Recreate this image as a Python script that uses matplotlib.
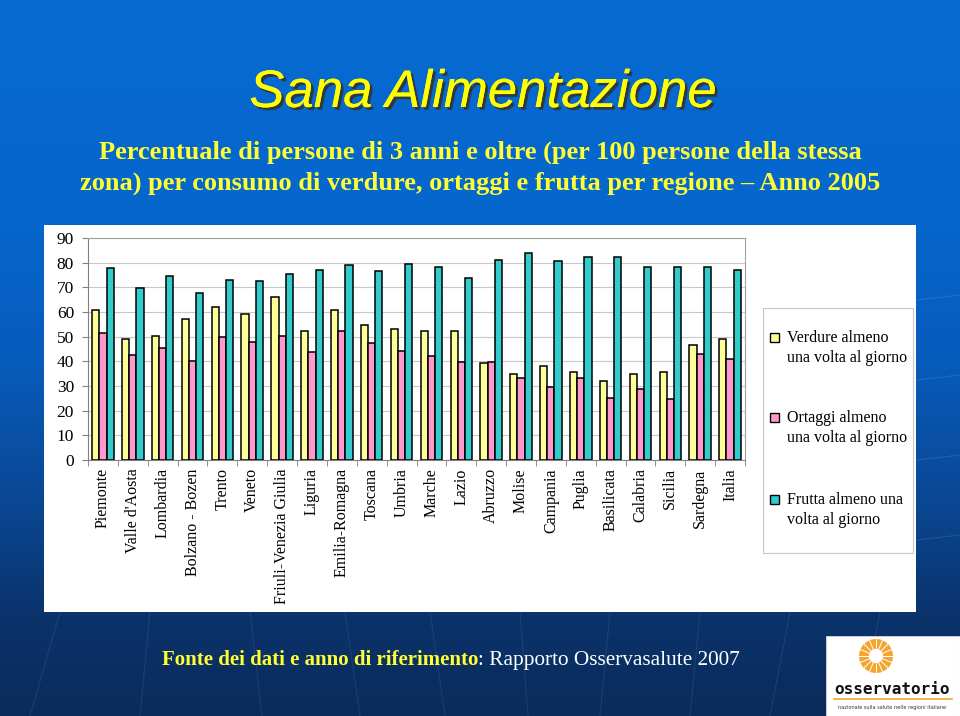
import numpy as np
import matplotlib
matplotlib.use("Agg")
from matplotlib import pyplot as plt
from matplotlib.patches import Rectangle, Wedge
import matplotlib.patheffects as pe

regions = [
    "Piemonte", "Valle d'Aosta", "Lombardia", "Bolzano - Bozen", "Trento",
    "Veneto", "Friuli-Venezia Giulia", "Liguria", "Emilia-Romagna", "Toscana",
    "Umbria", "Marche", "Lazio", "Abruzzo", "Molise", "Campania", "Puglia",
    "Basilicata", "Calabria", "Sicilia", "Sardegna", "Italia",
]
verdure = [60.8, 49.1, 50.2, 57.2, 62.0, 59.0, 66.0, 52.1, 60.8, 54.9, 53.2,
           52.1, 52.1, 39.2, 35.0, 38.0, 35.7, 32.2, 35.0, 35.7, 46.8, 49.1]
ortaggi = [51.4, 42.6, 45.6, 40.3, 49.7, 48.0, 50.2, 43.8, 52.1, 47.4, 44.0,
           42.2, 39.9, 39.9, 33.4, 29.4, 33.4, 25.2, 28.7, 24.6, 42.8, 41.0]
frutta = [77.7, 69.6, 74.7, 67.8, 73.1, 72.4, 75.4, 77.1, 78.9, 76.5, 79.4,
          78.2, 73.6, 81.2, 84.0, 80.6, 82.3, 82.3, 78.2, 78.2, 78.2, 77.1]
series_labels = [["Verdure almeno", "una volta al giorno"],
                 ["Ortaggi almeno", "una volta al giorno"],
                 ["Frutta almeno una", "volta al giorno"]]
colors = ["#FFFF99", "#FF99CC", "#33CCCC"]

W, H = 960, 716
serif = "Liberation Serif"

fig = plt.figure(figsize=(9.6, 7.16), dpi=100)

# slide background, drawn in pixel coordinates (y down)
bg = fig.add_axes([0, 0, 1, 1])
bg.set_axis_off()
grad = np.array([
    [0.03, 0.42, 0.82],
    [0.02, 0.40, 0.80],
    [0.03, 0.36, 0.74],
    [0.04, 0.28, 0.58],
    [0.04, 0.20, 0.42],
    [0.04, 0.17, 0.36],
])
t = np.linspace(0, 1, 400)
stops = np.array([0, 0.3, 0.5, 0.7, 0.86, 1.0])
img = np.stack([np.interp(t, stops, grad[:, c]) for c in range(3)], axis=1)
bg.imshow(img[:, None, :], aspect="auto", extent=[0, W, H, 0])
bg.set_xlim(0, W)
bg.set_ylim(H, 0)
# faint texture lines
for x0, x1 in [(60, 30), (150, 140), (250, 262), (345, 360), (430, 445),
               (520, 528), (610, 600), (700, 690), (790, 770), (880, 860)]:
    bg.plot([x0, x1], [612, H], color="white", alpha=0.08, lw=0.8)
for yy in [300, 380, 460, 540]:
    bg.plot([916, W], [yy, yy - 5], color="white", alpha=0.1, lw=0.8)
# white panel
bg.add_patch(Rectangle((44, 225), 916 - 44, 612 - 225,
                       facecolor="white", edgecolor="none"))

# legend, drawn by hand so the key square sits on the first line
bg.add_patch(Rectangle((763, 308), 913 - 763, 553 - 308,
                       facecolor="white", edgecolor="#c8c8c8", lw=0.8))
for top, col, lines in zip([338, 418, 500], colors, series_labels):
    bg.add_patch(Rectangle((770, top - 5), 9, 9, facecolor=col,
                           edgecolor="black", lw=1.0))
    for k, line in enumerate(lines):
        bg.text(787, top + 20 * k, line, ha="left", va="center",
                fontsize=11.5, family=serif, color="black")

# chart
ax = fig.add_axes([88 / W, 1 - 460 / H, (745 - 88) / W, (460 - 238) / H])
x = np.arange(len(regions))
bw = 0.24
for i, (vals, col) in enumerate(zip([verdure, ortaggi, frutta], colors)):
    ax.bar(x + (i - 1) * bw, vals, width=bw, color=col, edgecolor="black",
           linewidth=1.1, zorder=3)
ax.set_xlim(-0.5, len(regions) - 0.5)
ax.set_ylim(0, 90)
ax.set_yticks(range(0, 91, 10))
ax.yaxis.grid(True, color="#c8c8c8", lw=0.8, zorder=0)
for s in ax.spines.values():
    s.set_color("#a0a0a0")
ax.spines["left"].set_color("#808080")
ax.spines["bottom"].set_color("#808080")
ax.set_xticks(x)
ax.set_xticklabels(regions, rotation=90, fontsize=11.5, family=serif)
ax.set_xticks(np.arange(-0.5, len(regions), 1), minor=True)
ax.tick_params(axis="x", which="major", length=0, pad=6)
ax.tick_params(axis="x", which="minor", length=4, color="#808080")
ax.tick_params(axis="y", length=4, color="#808080", pad=6)
for lbl in ax.get_yticklabels():
    lbl.set_family(serif)
    lbl.set_fontsize(12.5)

# titles
fig.text(483 / W, 1 - 93 / H, "Sana Alimentazione", ha="center", va="center",
         fontsize=38, style="italic", family="Liberation Sans", color="#FFFF00",
         path_effects=[pe.withSimplePatchShadow(offset=(2, -2), shadow_rgbFace="#333333", alpha=0.9),
                       pe.Normal()])
fig.text(480 / W, 1 - 152 / H,
         "Percentuale di persone di 3 anni e oltre (per 100 persone della stessa",
         ha="center", va="center", fontsize=19, fontweight="bold", family=serif,
         color="#FFFF33")
fig.text(480 / W, 1 - 183 / H,
         "zona) per consumo di verdure, ortaggi e frutta per regione \u2013 Anno 2005",
         ha="center", va="center", fontsize=19, fontweight="bold", family=serif,
         color="#FFFF33")

# footer
fig.text(478 / W, 1 - 660 / H, "Fonte dei dati e anno di riferimento", ha="right",
         va="center", fontsize=15, fontweight="bold", family=serif, color="#FFFF33")
fig.text(478 / W, 1 - 660 / H, ": Rapporto Osservasalute 2007", ha="left",
         va="center", fontsize=15.3, family=serif, color="white")

# logo
logo = fig.add_axes([826 / W, 0, (960 - 826) / W, (716 - 636) / H])
logo.set_xlim(0, 134)
logo.set_ylim(0, 80)
logo.set_axis_off()
logo.add_patch(Rectangle((0, 0), 134, 80, facecolor="white", edgecolor="#cccccc", lw=0.8))
logo.add_patch(Wedge((50, 60), 17, 0, 360, width=10, facecolor="#F3A530", edgecolor="none"))
for a in np.linspace(0, 2 * np.pi, 16, endpoint=False):
    logo.plot([50 + 7 * np.cos(a), 50 + 17 * np.cos(a)],
              [60 + 7 * np.sin(a), 60 + 17 * np.sin(a)], color="white", lw=0.7)
logo.text(66, 26, "osservatorio", ha="center", va="center", fontsize=11.5,
          fontweight="bold", family="DejaVu Sans Mono", color="#111111")
logo.plot([8, 126], [17, 17], color="#F3A530", lw=1.2)
logo.text(66, 9, "nazionale sulla salute nelle regioni italiane", ha="center",
          va="center", fontsize=3.6, color="#333333")

fig.savefig("out.png", dpi=100)
